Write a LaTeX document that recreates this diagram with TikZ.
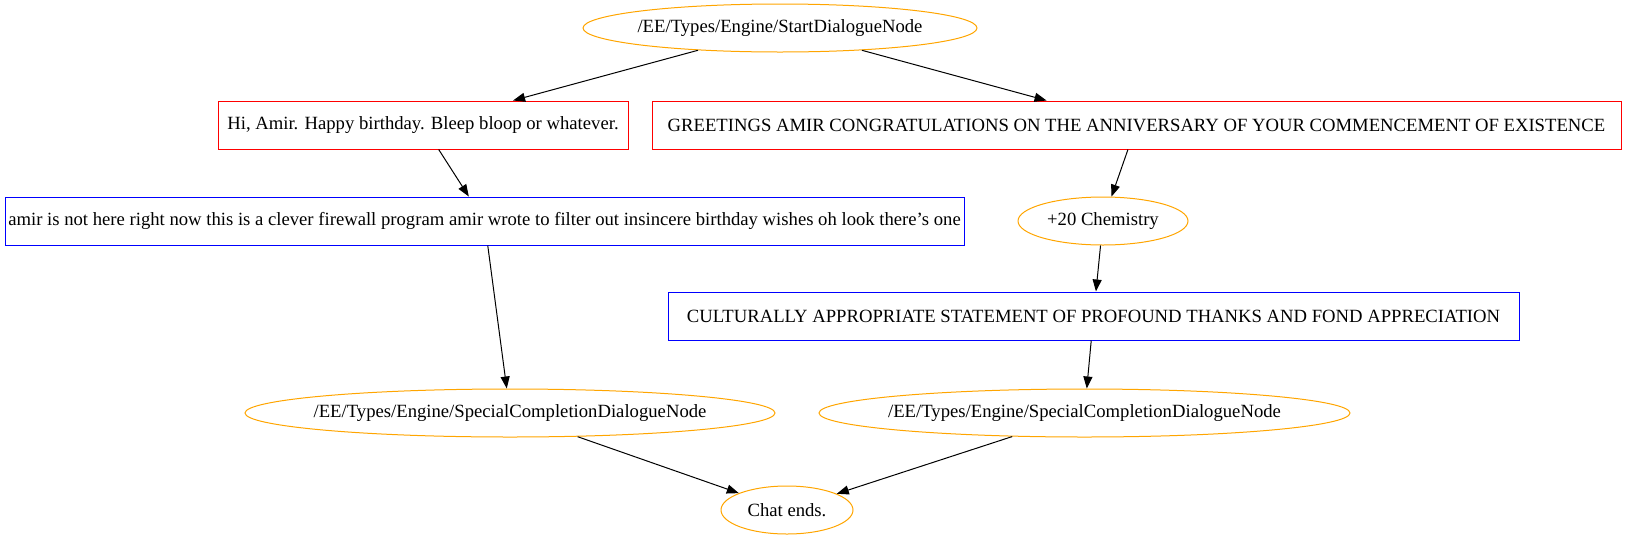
\documentclass[tikz,border=0pt]{standalone}
\usepackage{fontspec}
\setmainfont{LiberationSerif}[Extension=.ttf,UprightFont=*-Regular,BoldFont=*-Bold,ItalicFont=*-Italic]
\usetikzlibrary{shapes.geometric,arrows.meta}
\definecolor{gvorange}{HTML}{FFA500}
\definecolor{gvred}{HTML}{FF0000}
\definecolor{gvblue}{HTML}{0000FF}
\newcommand{\ztext}[1]{\makebox[0pt]{#1}}
\begin{document}
\begin{tikzpicture}[x=1pt,y=-1pt,
  font=\rmfamily\fontsize{18.67}{22}\selectfont,
  ell/.style={ellipse,draw=gvorange,line width=1pt,inner sep=0pt,minimum height=48pt},
  redbox/.style={rectangle,draw=gvred,line width=1pt,inner sep=0pt,minimum height=48pt},
  bluebox/.style={rectangle,draw=gvblue,line width=1pt,inner sep=0pt,minimum height=48pt},
  edge/.style={draw=black,line width=1pt,-{Triangle[length=12pt,width=9pt]}}]
\useasboundingbox (0,0) rectangle (1626,539);
\node[ell,minimum width=394pt] (start) at (780,28) {\ztext{/EE/Types/Engine/StartDialogueNode}};
\node[redbox,minimum width=410pt] (hi) at (423,125) {Hi, Amir. Happy birthday. Bleep bloop or whatever.};
\node[redbox,minimum width=969pt] (greet) at (1136.5,125) {GREETINGS AMIR CONGRATULATIONS ON THE ANNIVERSARY OF YOUR COMMENCEMENT OF EXISTENCE};
\node[bluebox,minimum width=959pt] (amir) at (484.5,221) {amir is not here right now this is a clever firewall program amir wrote to filter out insincere birthday wishes oh look there’s one};
\node[ell,minimum width=170pt] (chem) at (1103,221) {\ztext{+20 Chemistry}};
\node[bluebox,minimum width=851pt] (cult) at (1093.5,316) {CULTURALLY APPROPRIATE STATEMENT OF PROFOUND THANKS AND FOND APPRECIATION};
\node[ell,minimum width=530pt] (spl) at (510,413) {\ztext{/EE/Types/Engine/SpecialCompletionDialogueNode}};
\node[ell,minimum width=531pt] (spr) at (1084.5,413) {\ztext{/EE/Types/Engine/SpecialCompletionDialogueNode}};
\node[ell,minimum width=132pt] (chat) at (787,510) {\ztext{Chat ends.}};
\draw[edge] (start) -- (hi);
\draw[edge] (start) -- (greet);
\draw[edge] (hi) -- (amir);
\draw[edge] (amir) -- (spl);
\draw[edge] (greet) -- (chem);
\draw[edge] (chem) -- (cult);
\draw[edge] (cult) -- (spr);
\draw[edge] (spl) -- (chat);
\draw[edge] (spr) -- (chat);
\end{tikzpicture}
\end{document}
